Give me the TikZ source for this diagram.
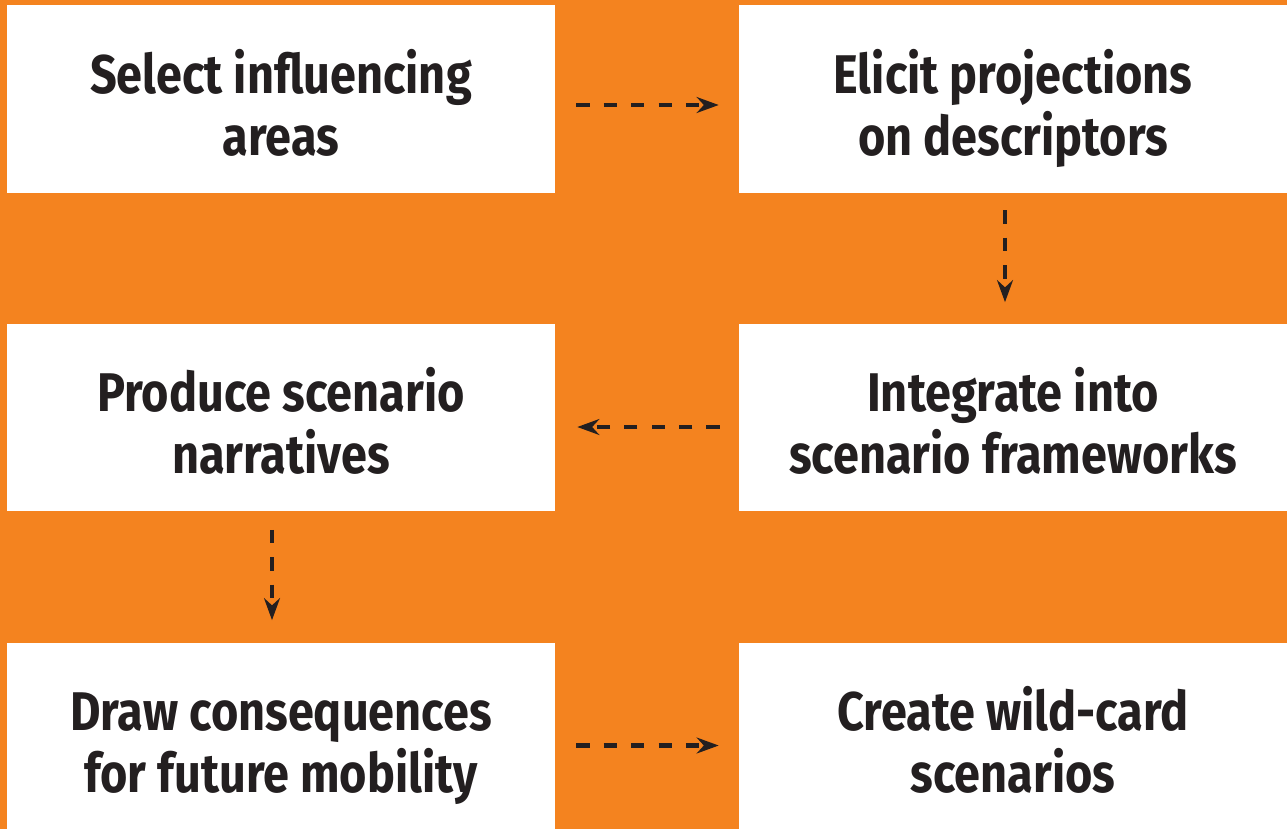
\documentclass[tikz,border=0pt]{standalone}
\usepackage{fontspec}
\setmainfont{Fira Sans}[FakeStretch=0.86]
\usepackage{tikz}
\usetikzlibrary{arrows.meta, positioning}
\definecolor{baseorange}{HTML}{F4831F}
\definecolor{basedark}{HTML}{231F20}
\newcommand{\firstline}{\rule{0pt}{38pt}}
\newcommand{\lastline}{\rule[-9.5pt]{0pt}{9.5pt}}

\begin{document}
\begin{tikzpicture}[x=0.02cm, y=-0.02cm,
        every node/.style={fill=white,
        text=basedark,
        font=\fontsize{31}{35.3}\selectfont\bfseries,
        minimum width=10.96cm,
        minimum height=3.76cm,
        inner sep=0pt,
        align=center},
        flow/.style={draw=basedark, line width=2.3pt,
        dash pattern=on 7.6pt off 8pt,
        -{Stealth[length=12.5pt, width=9pt]}}]
        \fill[baseorange] (0,0) rectangle (1287,829);
        \useasboundingbox (0,0) rectangle (1287,829);
        \node (sel) at (281,99) {\firstline Select influencing\\areas\lastline};
        \node (eli) at (1013,99) {\firstline Elicit projections\\on descriptors\lastline};
        \node (pro) at (281,417.5) {\firstline Produce scenario\\narratives\lastline};
        \node (int) at (1013,417.5) {\firstline Integrate into\\scenario frameworks\lastline};
        \node (dra) at (281,736.5) {\firstline Draw consequences\\for future mobility\lastline};
        \node (wil) at (1013,736.5) {\firstline Create wild-card\\scenarios\lastline};
        \draw[flow, shorten <=0.42cm, shorten >=0.4cm] ([yshift=-0.12cm]sel.east) -- ([yshift=-0.12cm]eli.west);
        \draw[flow, shorten <=0.34cm, shorten >=0.42cm] ([xshift=-0.16cm]eli.south) -- ([xshift=-0.16cm]int.north);
        \draw[flow, shorten <=0.38cm, shorten >=0.44cm] ([yshift=-0.19cm]int.west) -- ([yshift=-0.19cm]pro.east);
        \draw[flow, shorten <=0.36cm, shorten >=0.44cm] ([xshift=-0.18cm]pro.south) -- ([xshift=-0.18cm]dra.north);
        \draw[flow, shorten <=0.42cm, shorten >=0.4cm] ([yshift=-0.18cm]dra.east) -- ([yshift=-0.18cm]wil.west);
    \end{tikzpicture}
\end{document}
